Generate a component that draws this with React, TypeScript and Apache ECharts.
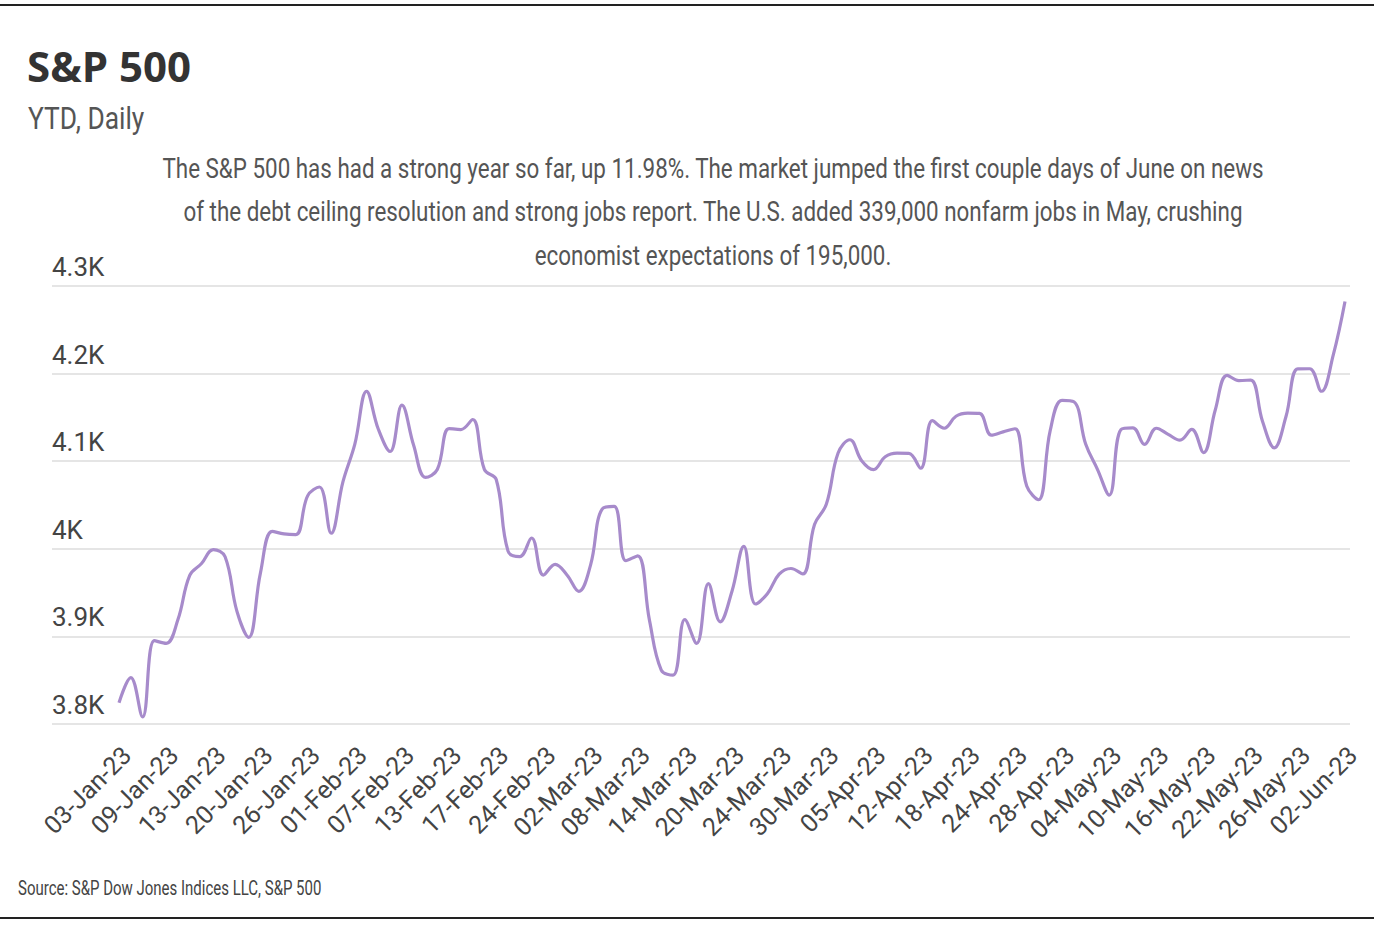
import React, { useEffect, useRef } from "react";
import * as echarts from "echarts";

const dates: string[] = [
  "03-Jan-23","04-Jan-23","05-Jan-23","06-Jan-23","09-Jan-23","10-Jan-23","11-Jan-23","12-Jan-23","13-Jan-23",
  "17-Jan-23","18-Jan-23","19-Jan-23","20-Jan-23","23-Jan-23","24-Jan-23","25-Jan-23","26-Jan-23","27-Jan-23",
  "30-Jan-23","31-Jan-23","01-Feb-23","02-Feb-23","03-Feb-23","06-Feb-23","07-Feb-23","08-Feb-23","09-Feb-23",
  "10-Feb-23","13-Feb-23","14-Feb-23","15-Feb-23","16-Feb-23","17-Feb-23","21-Feb-23","22-Feb-23","23-Feb-23",
  "24-Feb-23","27-Feb-23","28-Feb-23","01-Mar-23","02-Mar-23","03-Mar-23","06-Mar-23","07-Mar-23","08-Mar-23",
  "09-Mar-23","10-Mar-23","13-Mar-23","14-Mar-23","15-Mar-23","16-Mar-23","17-Mar-23","20-Mar-23","21-Mar-23",
  "22-Mar-23","23-Mar-23","24-Mar-23","27-Mar-23","28-Mar-23","29-Mar-23","30-Mar-23","31-Mar-23","03-Apr-23",
  "04-Apr-23","05-Apr-23","06-Apr-23","10-Apr-23","11-Apr-23","12-Apr-23","13-Apr-23","14-Apr-23","17-Apr-23",
  "18-Apr-23","19-Apr-23","20-Apr-23","21-Apr-23","24-Apr-23","25-Apr-23","26-Apr-23","27-Apr-23","28-Apr-23",
  "01-May-23","02-May-23","03-May-23","04-May-23","05-May-23","08-May-23","09-May-23","10-May-23","11-May-23",
  "12-May-23","15-May-23","16-May-23","17-May-23","18-May-23","19-May-23","22-May-23","23-May-23","24-May-23",
  "25-May-23","26-May-23","30-May-23","31-May-23","01-Jun-23","02-Jun-23"
];

const closes: number[] = [
  3824.14,3852.97,3808.10,3895.08,3892.09,3919.25,3969.61,3983.17,3999.09,
  3990.97,3928.86,3898.85,3972.61,4019.81,4016.95,4016.22,4060.43,4070.56,
  4017.77,4076.60,4119.21,4179.76,4136.48,4111.08,4164.00,4117.86,4081.50,
  4090.46,4137.29,4136.13,4147.60,4090.41,4079.09,3997.34,3991.05,4012.32,
  3970.04,3982.24,3970.15,3951.39,3981.35,4045.64,4048.42,3986.37,3992.01,
  3918.32,3861.59,3855.76,3919.29,3891.93,3960.28,3916.64,3951.57,4002.87,
  3936.97,3948.72,3970.99,3977.53,3971.27,4027.81,4050.83,4109.31,4124.51,
  4100.60,4090.38,4105.02,4109.11,4108.94,4091.95,4146.22,4137.64,4151.32,
  4154.87,4154.52,4129.79,4133.52,4137.04,4071.63,4055.99,4135.35,4169.48,
  4167.87,4119.58,4090.75,4061.22,4136.25,4138.12,4119.17,4137.64,4130.62,
  4124.08,4136.28,4109.90,4158.77,4198.05,4191.98,4192.63,4145.58,4115.24,
  4151.28,4205.45,4205.52,4179.83,4221.02,4282.37
];

const yTicks = { min: 3800, max: 4300, interval: 100 };

const title = "S&P 500";
const subtitle = "YTD, Daily";
const description =
  "The S&P 500 has had a strong year so far, up 11.98%. The market jumped the first couple days of June on news\nof the debt ceiling resolution and strong jobs report. The U.S. added 339,000 nonfarm jobs in May, crushing\neconomist expectations of 195,000.";
const source = "Source: S&P Dow Jones Indices LLC, S&P 500";

const FONT = "Roboto, 'Noto Sans', sans-serif";

export default function App() {
  const ref = useRef<HTMLDivElement>(null);
  useEffect(() => {
    document.body.style.margin = "0";
    if (!ref.current) return;
    const chart = echarts.init(ref.current, undefined, { renderer: "svg" });
    const fmt = (v: number) => {
      const k = v / 1000;
      return (Number.isInteger(k) ? k.toFixed(0) : k.toFixed(1)) + "K";
    };
    chart.setOption({
      animation: false,
      backgroundColor: "#fff",
      grid: [
        { left: 52, right: 36, top: 286, bottom: 210 },
        { left: 119, right: 41, top: 286, bottom: 210 },
        { left: 127, right: 33, top: 286, bottom: 210 },
      ],
      xAxis: [
        { type: "category", gridIndex: 0, data: dates, show: false, boundaryGap: false },
        { type: "category", gridIndex: 1, data: dates, show: false, boundaryGap: false },
        {
          type: "category",
          gridIndex: 2,
          data: dates,
          boundaryGap: false,
          axisLine: { show: false },
          axisTick: { show: false },
          axisLabel: {
            interval: 3,
            rotate: 45,
            fontFamily: FONT,
            fontSize: 25,
            color: "#444",
            margin: 27,
          },
        },
      ],
      yAxis: [
        {
          type: "value",
          gridIndex: 0,
          ...yTicks,
          axisLine: { show: false },
          axisTick: { show: false },
          splitLine: { lineStyle: { color: "#dddddd", width: 1.5 } },
          axisLabel: {
            inside: true,
            margin: 0,
            verticalAlign: "bottom",
            padding: [0, 0, 6, 0],
            fontFamily: FONT,
            fontSize: 26,
            color: "#444",
            formatter: fmt,
          },
        },
        { type: "value", gridIndex: 1, ...yTicks, show: false },
        { type: "value", gridIndex: 2, ...yTicks, show: false },
      ],
      series: [
        {
          type: "line",
          xAxisIndex: 1,
          yAxisIndex: 1,
          data: closes,
          smooth: 0.4,
          showSymbol: false,
          lineStyle: { color: "#a78bcb", width: 3.2 },
        },
      ],
      graphic: [
        { type: "line", shape: { x1: 0, y1: 5, x2: 1374, y2: 5 }, style: { stroke: "#222", lineWidth: 2 } },
        { type: "line", shape: { x1: 0, y1: 918, x2: 1374, y2: 918 }, style: { stroke: "#222", lineWidth: 2 } },
        {
          type: "text",
          x: 27,
          y: 44,
          style: { text: title, font: "bold 42px 'Open Sans', sans-serif", fill: "#333", verticalAlign: "top" },
        },
        {
          type: "text",
          x: 28,
          y: 103,
          scaleX: 0.85,
          style: { text: subtitle, font: `31px ${FONT}`, fill: "#555", verticalAlign: "top" },
        },
        {
          type: "text",
          x: 713,
          y: 146,
          scaleX: 0.8,
          style: {
            text: description,
            font: `28px ${FONT}`,
            fill: "#555",
            align: "center",
            verticalAlign: "top",
            lineHeight: 43.5,
          },
        },
        {
          type: "text",
          x: 18,
          y: 878,
          scaleX: 0.75,
          style: { text: source, font: `20px ${FONT}`, fill: "#444", verticalAlign: "top" },
        },
      ],
    });
    return () => chart.dispose();
  }, []);
  return <div ref={ref} style={{ width: 1386, height: 934 }} />;
}
